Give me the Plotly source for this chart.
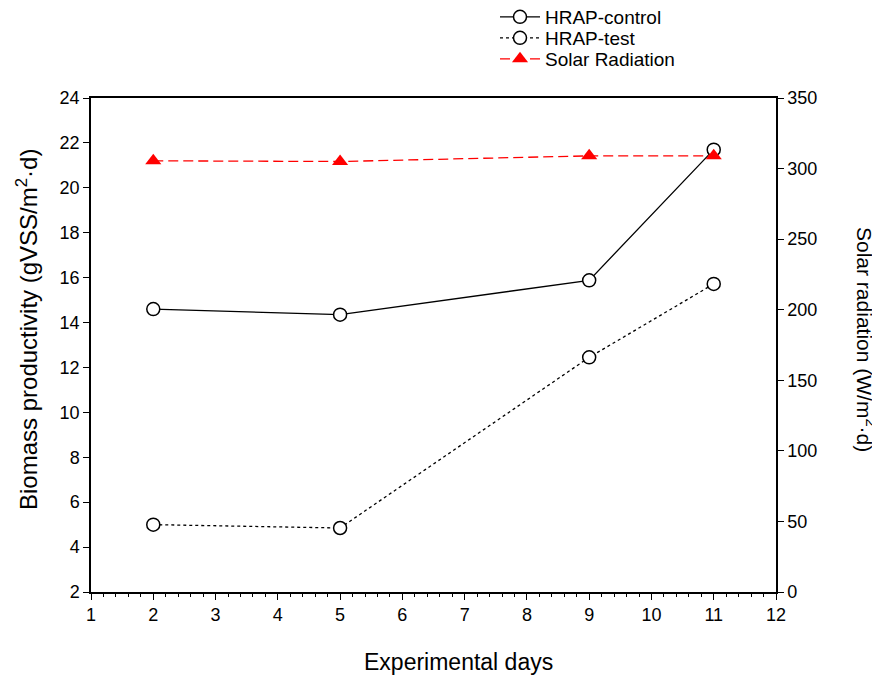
import plotly.graph_objects as go

days = [2, 5, 9, 11]
hrap_control = [14.6, 14.35, 15.88, 21.7]
hrap_test = [5.0, 4.85, 12.45, 15.72]
solar_radiation = [305.5, 305.0, 309.0, 309.0]

FONT = "Liberation Sans, Arial, sans-serif"

fig = go.Figure()
fig.add_trace(go.Scatter(
    x=days, y=hrap_control, name="HRAP-control", mode="lines+markers", legend="legend",
    line=dict(color="black", width=1.3, dash="solid"),
    marker=dict(symbol="circle", size=13, color="white", line=dict(color="black", width=1.5)),
))
fig.add_trace(go.Scatter(
    x=days, y=hrap_test, name="HRAP-test", mode="lines+markers", legend="legend2",
    line=dict(color="black", width=1.3, dash="dot"),
    marker=dict(symbol="circle", size=13, color="white", line=dict(color="black", width=1.5)),
))
fig.add_trace(go.Scatter(
    x=days, y=solar_radiation, name="Solar Radiation", mode="lines+markers", yaxis="y2", legend="legend3",
    line=dict(color="red", width=1.3, dash="10px,5px"),
    marker=dict(symbol="triangle-up", size=14, color="red", line=dict(color="red", width=0)),
))

def leg(yimg):
    return dict(x=(495 - 91) / 685, y=(592 - yimg) / 494, xanchor="left", yanchor="middle",
                font=dict(size=19, family=FONT), bgcolor="rgba(0,0,0,0)", itemwidth=40)

# page body has an 8px margin; compensate so the plot lands where the reference has it
fig.update_layout(
    width=872, height=672,
    margin=dict(l=83, r=104, t=90, b=88, autoexpand=False),
    paper_bgcolor="white", plot_bgcolor="white",
    font=dict(family=FONT, size=18, color="black"),
    showlegend=True,
    legend=leg(17), legend2=leg(38), legend3=leg(59),
    xaxis=dict(range=[1, 12], dtick=1, tick0=1, showgrid=False, zeroline=False,
               showline=True, linecolor="black", linewidth=1.5, mirror=True,
               ticks="outside", ticklen=6, tickwidth=1.2, tickcolor="black",
               minor=dict(dtick=0.2, tick0=1, ticks="outside", ticklen=3, tickwidth=1, tickcolor="black", showgrid=False),
               tickfont=dict(size=18)),
    yaxis=dict(range=[2, 24], dtick=2, tick0=2, showgrid=False, zeroline=False,
               showline=True, linecolor="black", linewidth=1.5,
               ticks="outside", ticklen=6, tickwidth=1.2, tickcolor="black",
               tickfont=dict(size=18)),
    yaxis2=dict(range=[0, 350], dtick=50, tick0=0, overlaying="y", side="right",
                showgrid=False, zeroline=False,
                showline=True, linecolor="black", linewidth=1.5,
                ticks="outside", ticklen=6, tickwidth=1.2, tickcolor="black",
                tickfont=dict(size=18)),
    annotations=[
        dict(text="Experimental days", xref="paper", yref="paper",
             x=(458 - 91) / 685, y=-(662 - 592) / 494, xanchor="center", yanchor="middle",
             showarrow=False, font=dict(size=23, family=FONT)),
        dict(text="Biomass productivity (gVSS/m<sup>2</sup>·d)", textangle=-90,
             xref="paper", yref="paper", x=-(91 - 27) / 685, y=(592 - 330) / 494,
             xanchor="center", yanchor="middle", showarrow=False,
             font=dict(size=24, family=FONT)),
        dict(text="Solar radiation (W/m<sup>2</sup>·d)", textangle=90,
             xref="paper", yref="paper", x=1.0 + (866 - 776) / 685, y=(592 - 339) / 494,
             xanchor="center", yanchor="middle", showarrow=False,
             font=dict(size=21, family=FONT)),
    ],
)

fig.write_html("out.html")
